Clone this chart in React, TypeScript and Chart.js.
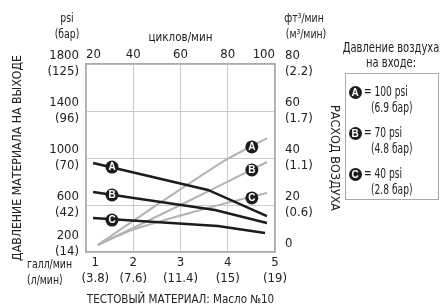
import React, { useEffect, useRef } from 'react';
import { Chart, registerables } from 'chart.js';
Chart.register(...registerables);

// ---- data ----
const flowTicks = [1, 2, 3, 4, 5];
const flowTickLabels = [['1', '(3.8)'], ['2', '(7.6)'], ['3', '(11.4)'], ['4', '(15)'], ['5', '(19)']];
const cycleTicks = [20, 40, 60, 80, 100];
const psiTicks = [200, 600, 1000, 1400, 1800];
const psiTickLabels = [['200', '(14)', ''], ['600', '(42)'], ['1000', '(70)'], ['1400', '(96)'], ['1800', '(125)']];
const cfmTicks = [0, 20, 40, 60, 80];
const cfmTickLabels = [['0', ''], ['20', '(0.6)'], ['40', '(1.1)'], ['60', '(1.7)'], ['80', '(2.2)']];

const seriesLetters = ['A', 'B', 'C'];

// material outlet pressure (psi) vs flow (gal/min)
const pressureFlowA = [1.15, 3.58, 4.83];
const pressureA = [957, 728, 506];
const pressureFlowB = [1.15, 3.73, 4.83];
const pressureB = [711, 557, 447];
const pressureFlowC = [1.15, 3.79, 4.79];
const pressureC = [489, 421, 362];

// air consumption (cfm) vs flow (gal/min)
const airFlowA = [1.25, 2.42, 3.9, 4.83];
const airA = [3, 19, 38.5, 48.5];
const airFlowB = [1.25, 3, 4.83];
const airB = [3, 20, 38.3];
const airFlowC = [1.25, 2, 3, 4, 4.83];
const airC = [3, 9.5, 15.5, 21, 25.1];

// marker positions
const pressureMarkerFlow = [1.55, 1.55, 1.55];
const pressureMarkers = [923, 685, 472];
const airMarkerFlow = [4.51, 4.51, 4.51];
const airMarkers = [44.7, 34.9, 23];

const legendValues = ['= 100 psi', '= 70 psi', '= 40 psi'];
const legendBar = ['(6.9 бар)', '(4.8 бар)', '(2.8 бар)'];

const FONT = "'DejaVu Sans Condensed', 'Liberation Sans Narrow', sans-serif";
const TEXT = '#222';
const BLACK = '#1c1c1c';
const GRAY = '#b4b4b4';
const GRID = '#cacaca';
const BORDER = '#ababab';

const pts = (xs: number[], ys: number[]) => xs.map((x, i) => ({ x, y: ys[i] }));

const markerLetters = {
  id: 'markerLetters',
  afterDatasetsDraw(chart: any) {
    const ctx = chart.ctx;
    chart.data.datasets.forEach((ds: any, i: number) => {
      if (!ds.letters) return;
      const meta = chart.getDatasetMeta(i);
      meta.data.forEach((pt: any, j: number) => {
        ctx.save();
        ctx.fillStyle = '#fff';
        ctx.font = "bold 10px 'Liberation Sans', Arial, sans-serif";
        ctx.textAlign = 'center';
        ctx.textBaseline = 'middle';
        ctx.fillText(ds.letters[j], pt.x, pt.y + 0.5);
        ctx.restore();
      });
    });
  },
};

const Txt = ({ x, y, children, align = 'center', size = 13, sx = 0.8 }: any) => (
  <div
    style={{
      position: 'absolute',
      left: x,
      top: y,
      transformOrigin: align === 'center' ? 'center center' : 'left center',
      transform:
        (align === 'center' ? 'translate(-50%, -50%)' : 'translate(0, -50%)') + ` scaleX(${sx})`,
      fontFamily: FONT,
      fontSize: size,
      color: TEXT,
      whiteSpace: 'nowrap',
      lineHeight: 1,
    }}
  >
    {children}
  </div>
);

const Badge = ({ x, y, letter }: any) => (
  <div
    style={{
      position: 'absolute',
      left: x - 6.5,
      top: y - 6.5,
      width: 13,
      height: 13,
      borderRadius: '50%',
      background: BLACK,
      color: '#fff',
      fontFamily: "'Liberation Sans', Arial, sans-serif",
      fontWeight: 'bold',
      fontSize: 10,
      lineHeight: '13px',
      textAlign: 'center',
    }}
  >
    {letter}
  </div>
);

export default function App() {
  const ref = useRef<HTMLCanvasElement>(null);

  useEffect(() => {
    if (!ref.current) return;
    const tickFont = { family: FONT, size: 13, lineHeight: 1.23 };
    const chart = new Chart(ref.current, {
      type: 'line',
      data: {
        datasets: [
          {
            data: pts(pressureMarkerFlow, pressureMarkers),
            yAxisID: 'y',
            showLine: false,
            pointRadius: 6.5,
            pointBackgroundColor: BLACK,
            pointBorderWidth: 0,
            letters: seriesLetters,
          } as any,
          {
            data: pts(airMarkerFlow, airMarkers),
            yAxisID: 'y2',
            showLine: false,
            pointRadius: 6.5,
            pointBackgroundColor: BLACK,
            pointBorderWidth: 0,
            letters: seriesLetters,
          } as any,
          ...[
            pts(pressureFlowA, pressureA),
            pts(pressureFlowB, pressureB),
            pts(pressureFlowC, pressureC),
          ].map((d) => ({
            data: d,
            yAxisID: 'y',
            borderColor: BLACK,
            borderWidth: 2.5,
            pointRadius: 0,
            tension: 0,
          })),
          ...[pts(airFlowA, airA), pts(airFlowB, airB), pts(airFlowC, airC)].map((d) => ({
            data: d,
            yAxisID: 'y2',
            borderColor: GRAY,
            borderWidth: 2,
            pointRadius: 0,
            tension: 0.15,
          })),
        ],
      },
      options: {
        animation: false,
        responsive: false,
        devicePixelRatio: 1,
        layout: { padding: { left: 0, right: 106, top: 0, bottom: 0 } },
        plugins: { legend: { display: false }, tooltip: { enabled: false } },
        scales: {
          x: {
            type: 'linear',
            position: 'bottom',
            min: 1,
            max: 5,
            afterBuildTicks: (s: any) => {
              s.ticks = flowTicks.map((v) => ({ value: v }));
            },
            afterFit: (s: any) => {
              s.height = 55;
            },
            ticks: {
              padding: 3,
              color: TEXT,
              font: tickFont,
              maxRotation: 0,
              autoSkip: false,
              callback: (v: any) => {
                const i = flowTicks.indexOf(v);
                const l = flowTickLabels[i];
                return i === 0 ? l.map((t) => '     ' + t) : l;
              },
            },
            grid: { color: GRID, lineWidth: 1, drawTicks: false },
            border: { display: true, color: BORDER, width: 1.5 },
            title: {
              display: true,
              text: 'ТЕСТОВЫЙ МАТЕРИАЛ: Масло №10',
              color: TEXT,
              font: { family: FONT, size: 11.5, lineHeight: 1.2 },
              padding: { top: 0, bottom: 0 },
            },
          },
          x2: {
            type: 'linear',
            position: 'top',
            min: 20,
            max: 100,
            afterBuildTicks: (s: any) => {
              s.ticks = cycleTicks.map((v) => ({ value: v }));
            },
            afterFit: (s: any) => {
              s.height = 64;
            },
            ticks: {
              padding: 1,
              align: 'inner',
              color: TEXT,
              font: tickFont,
              maxRotation: 0,
              autoSkip: false,
              callback: (v: any) => String(v),
            },
            grid: { display: false, drawTicks: false },
            border: { display: true, color: BORDER, width: 1.5 },
            title: {
              display: true,
              text: 'циклов/мин',
              color: TEXT,
              font: { family: FONT, size: 11.5, lineHeight: 1.2 },
              padding: { top: 31, bottom: 0 },
            },
          },
          y: {
            type: 'linear',
            position: 'left',
            min: 200,
            max: 1800,
            afterBuildTicks: (s: any) => {
              s.ticks = psiTicks.map((v) => ({ value: v }));
            },
            afterFit: (s: any) => {
              s.width = 86;
            },
            ticks: {
              padding: 7,
              color: TEXT,
              font: tickFont,
              autoSkip: false,
              callback: (v: any) => psiTickLabels[psiTicks.indexOf(v)],
            },
            grid: { color: GRID, lineWidth: 1, drawTicks: false },
            border: { display: true, color: BORDER, width: 1.5 },
            title: {
              display: true,
              text: 'ДАВЛЕНИЕ МАТЕРИАЛА НА ВЫХОДЕ',
              color: TEXT,
              font: { family: FONT, size: 12.2, lineHeight: 1.2 },
              padding: { top: 11, bottom: 0 },
            },
          },
          y2: {
            type: 'linear',
            position: 'right',
            min: 0,
            max: 80,
            afterBuildTicks: (s: any) => {
              s.ticks = cfmTicks.map((v) => ({ value: v }));
            },
            afterFit: (s: any) => {
              s.width = 67;
            },
            ticks: {
              padding: 10,
              color: TEXT,
              font: tickFont,
              autoSkip: false,
              callback: (v: any) => cfmTickLabels[cfmTicks.indexOf(v)],
            },
            grid: { display: false, drawTicks: false },
            border: { display: true, color: BORDER, width: 1.5 },
            title: {
              display: true,
              text: 'РАСХОД ВОЗДУХА',
              color: TEXT,
              font: { family: FONT, size: 12.5, lineHeight: 1.2 },
              padding: { top: 0, bottom: 0 },
            },
          },
        },
      } as any,
      plugins: [markerLetters],
    });
    return () => chart.destroy();
  }, []);

  return (
    <div style={{ position: 'absolute', left: 0, top: 0, width: 448, height: 307, background: '#fff' }}>
      <canvas ref={ref} width={448} height={307} style={{ position: 'absolute', left: 0, top: 0, width: 448, height: 307 }} />
      <Txt x={67} y={17}>psi</Txt>
      <Txt x={67} y={33}>(бар)</Txt>
      <Txt x={304} y={17}>фт³/мин</Txt>
      <Txt x={306} y={33}>(м³/мин)</Txt>
      <Txt x={27} y={263} align="left">галл/мин</Txt>
      <Txt x={27} y={279} align="left">(л/мин)</Txt>
      <Txt x={391} y={48} size={13.5} sx={0.82}>Давление воздуха</Txt>
      <Txt x={391} y={63} size={13.5} sx={0.82}>на входе:</Txt>
      <div style={{ position: 'absolute', left: 345, top: 73, width: 94, height: 127, border: '1px solid #aaa', boxSizing: 'border-box' }} />
      {seriesLetters.map((l, i) => (
        <React.Fragment key={l}>
          <Badge x={355} y={92 + i * 41} letter={l} />
          <Txt x={364} y={92 + i * 41} align="left" size={13.5} sx={0.75}>{legendValues[i]}</Txt>
          <Txt x={371} y={108 + i * 41} align="left" size={13.5} sx={0.75}>{legendBar[i]}</Txt>
        </React.Fragment>
      ))}
    </div>
  );
}
